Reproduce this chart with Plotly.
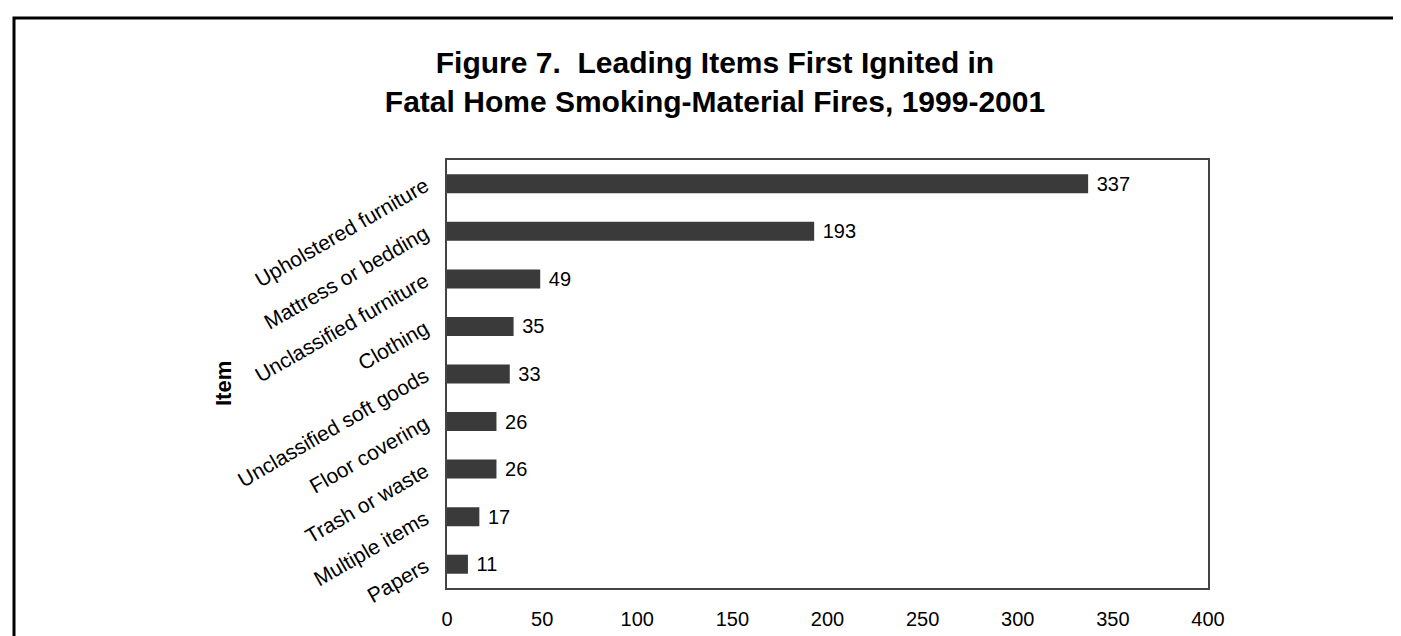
import plotly.graph_objects as go

# data
items = [
    "Upholstered furniture",
    "Mattress or bedding",
    "Unclassified furniture",
    "Clothing",
    "Unclassified soft goods",
    "Floor covering",
    "Trash or waste",
    "Multiple items",
    "Papers",
]
deaths = [337, 193, 49, 35, 33, 26, 26, 17, 11]
x_ticks = [0, 50, 100, 150, 200, 250, 300, 350, 400]

W, H = 1401, 636
L, R, T, B = 439, 201, 152, 56
pw, ph = W - L - R, H - T - B


def px_x(p):
    return (p - L) / pw


def px_y(p):
    return (H - B - p) / ph


FONT = "Liberation Sans, Arial, Helvetica, sans-serif"

fig = go.Figure()

fig.add_trace(go.Bar(
    x=deaths,
    y=items,
    orientation="h",
    marker=dict(color="#3a3a3a", line=dict(width=0)),
    text=deaths,
    texttemplate=" %{text}",
    textposition="outside",
    constraintext="none",
    textfont=dict(family=FONT, size=20, color="black"),
    cliponaxis=False,
    hoverinfo="x+y",
))

fig.update_layout(
    width=W,
    height=H,
    margin=dict(l=L, r=R, t=T, b=B),
    paper_bgcolor="white",
    plot_bgcolor="white",
    bargap=0.6,
    showlegend=False,
    font=dict(family=FONT, color="black"),
    title=dict(
        text="Figure 7.\u00a0 Leading Items First Ignited in<br>Fatal Home Smoking-Material Fires, 1999-2001",
        x=707 / W,
        xanchor="center",
        y=1 - 65 / H,
        yanchor="middle",
        font=dict(family=FONT, size=30, color="black", weight="bold"),
    ),
    xaxis=dict(
        range=[0, 400],
        tickvals=x_ticks,
        ticks="",
        showgrid=False,
        zeroline=False,
        showline=True,
        linecolor="#444",
        linewidth=1.5,
        mirror=True,
        tickfont=dict(size=20),
        ticklabelstandoff=12,
    ),
    yaxis=dict(
        categoryorder="array",
        categoryarray=items[::-1],
        ticks="",
        showgrid=False,
        showline=True,
        linecolor="#444",
        linewidth=1.5,
        mirror=True,
        tickangle=-30,
        tickfont=dict(size=21),
        ticklabelstandoff=16,
    ),
)

# axis title placed by hand, the rotated tick labels push the auto one too far
fig.add_annotation(
    text="<b>Item</b>",
    xref="paper", yref="paper",
    x=px_x(215), y=px_y(376),
    xanchor="center", yanchor="middle",
    textangle=-90,
    showarrow=False,
    font=dict(family=FONT, size=22, color="black"),
)

# outer frame round the whole figure
fig.add_shape(
    type="rect",
    xref="paper", yref="paper",
    x0=px_x(6), x1=px_x(1395), y0=px_y(660), y1=px_y(10),
    line=dict(color="black", width=3),
    fillcolor="rgba(0,0,0,0)",
    layer="above",
)

fig.write_html("out.html")
